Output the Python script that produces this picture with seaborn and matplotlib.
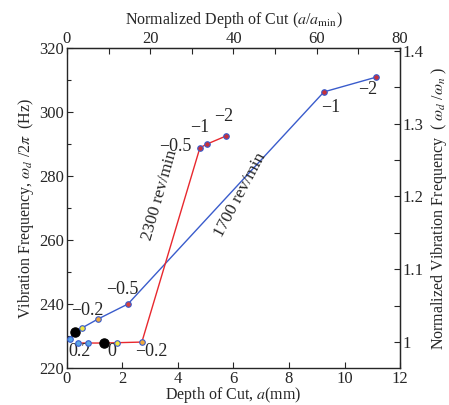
import numpy as np
import pandas as pd
import matplotlib
matplotlib.use("Agg")
import matplotlib.pyplot as plt
from matplotlib.ticker import FixedLocator
import seaborn as sns

# 1700 rev/min series: depth of cut (mm), frequency (Hz)
depth_1700 = [0.10, 0.29, 0.54, 1.12, 2.20, 9.26, 11.14]
freq_1700 = [229.2, 231.2, 232.5, 235.3, 240.0, 306.3, 310.9]
fill_1700 = ["#5aa7e6", "black", "#f2e63c", "#f0a838", "#d8403a", "#c8303a", "#c8303a"]

# 2300 rev/min series
depth_2300 = [0.41, 0.76, 1.32, 1.80, 2.70, 4.79, 5.05, 5.73]
freq_2300 = [227.8, 227.8, 227.8, 227.9, 228.1, 288.8, 290.0, 292.5]
fill_2300 = ["#5aa7e6", "#5aa7e6", "black", "#f2e63c", "#f0a838", "#c8303a", "#c8303a", "#c8303a"]

# point labels (text, depth, freq)
labels = [
    ("0.2", 0.47, 225.0), ("0", 1.62, 225.3), ("\u22120.2", 3.05, 225.3),
    ("\u22120.2", 0.72, 238.1), ("\u22120.5", 1.98, 244.6),
    ("\u22120.5", 3.9, 289.2), ("\u22121", 4.8, 295.1), ("\u22122", 5.65, 298.5),
    ("\u22121", 9.5, 301.5), ("\u22122", 10.85, 307.0),
]

# tick values
x_ticks = [0, 2, 4, 6, 8, 10, 12]
y_ticks = [220, 240, 260, 280, 300, 320]
y_minor = [230, 250, 270, 290, 310]
top_ticks = [0, 20, 40, 60, 80]
top_minor = [10, 30, 50, 70]
right_ticks = [1.0, 1.1, 1.2, 1.3, 1.4]
right_labels = ["1", "1.1", "1.2", "1.3", "1.4"]
right_minor = [1.05, 1.15, 1.25, 1.35]

a_min = 0.15   # mm, 12 mm <-> 80
omega_n = 228.0  # Hz

df17 = pd.DataFrame({"depth": depth_1700, "freq": freq_1700})
df23 = pd.DataFrame({"depth": depth_2300, "freq": freq_2300})

sns.set_style("ticks")
plt.rcParams["font.family"] = ["Liberation Serif", "DejaVu Serif"]
plt.rcParams["mathtext.fontset"] = "stix"
plt.rcParams["font.size"] = 12

fig = plt.figure(figsize=(4.49, 4.05), dpi=100)
ax = fig.add_axes([0.149, 0.0914, 0.742, 0.79])

sns.lineplot(data=df17, x="depth", y="freq", sort=False, color="#3a5ccc", lw=1.0, ax=ax)
sns.lineplot(data=df23, x="depth", y="freq", sort=False, color="#e8282e", lw=1.0, ax=ax)

for d, f, c in zip(depth_1700 + depth_2300, freq_1700 + freq_2300, fill_1700 + fill_2300):
    big = c == "black"
    ax.scatter(d, f, s=45 if big else 16, c=c, edgecolors="black" if big else "#3a5ccc",
               linewidths=0.8, zorder=5)

for t, d, f in labels:
    ax.text(d, f, t, ha="center", va="center", fontsize=13)

ax.text(3.35, 274.0, "2300 rev/min", rotation=74, ha="center", va="center", fontsize=12.5)
ax.text(6.25, 274.0, "1700 rev/min", rotation=62, ha="center", va="center", fontsize=12.5)

ax.set_xlim(0, 12)
ax.set_ylim(220, 320)
ax.xaxis.set_major_locator(FixedLocator(x_ticks))
ax.yaxis.set_major_locator(FixedLocator(y_ticks))
ax.yaxis.set_minor_locator(FixedLocator(y_minor))
ax.tick_params(direction="in", length=4, width=0.8, labelsize=12, pad=2)
ax.tick_params(which="minor", direction="in", length=3, width=0.8)
ax.set_xlabel("Depth of Cut, $a$(mm)", fontsize=11.5, labelpad=-1)
ax.set_ylabel(r"Vibration Frequency, $\omega_d$ /2$\pi$  (Hz)", fontsize=11.5, labelpad=2)

top = ax.secondary_xaxis("top", functions=(lambda x: x / a_min, lambda t: t * a_min))
top.xaxis.set_major_locator(FixedLocator(top_ticks))
top.xaxis.set_minor_locator(FixedLocator(top_minor))
top.tick_params(direction="in", length=4, width=0.8, labelsize=12, pad=1)
top.tick_params(which="minor", direction="in", length=4, width=0.8)
top.set_xlabel(r"Normalized Depth of Cut ($a$/$a_{\rm min}$)", fontsize=11.5, labelpad=5)

right = ax.secondary_yaxis("right", functions=(lambda y: y / omega_n, lambda r: r * omega_n))
right.yaxis.set_major_locator(FixedLocator(right_ticks))
right.yaxis.set_minor_locator(FixedLocator(right_minor))
right.set_yticklabels(right_labels)
right.tick_params(direction="in", length=4, width=0.8, labelsize=12, pad=2)
right.tick_params(which="minor", direction="in", length=4, width=0.8)
right.set_ylabel(r"Normalized Vibration Frequency  ( $\omega_d$ /$\omega_n$ )", fontsize=11.5, labelpad=4)

for s in ax.spines.values():
    s.set_linewidth(1.0)

fig.savefig("out.png", dpi=100)
